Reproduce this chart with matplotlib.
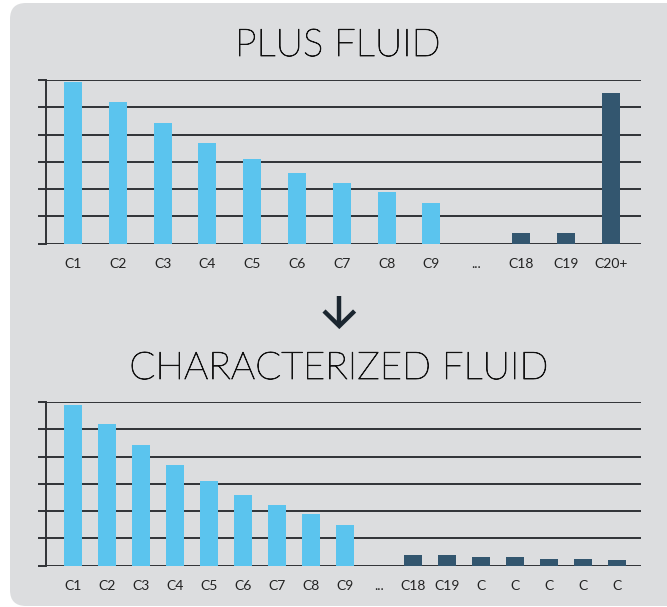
import matplotlib
matplotlib.use("Agg")
import matplotlib.pyplot as plt
import matplotlib.patheffects as pe
from matplotlib.patches import FancyBboxPatch
from matplotlib.lines import Line2D

plt.rcParams['font.family'] = ['Lato', 'DejaVu Sans']

# data (units = gridline steps)
plus_labels = ["C1", "C2", "C3", "C4", "C5", "C6", "C7", "C8", "C9", "...", "C18", "C19", "C20+"]
plus_values = [5.92, 5.19, 4.42, 3.69, 3.10, 2.59, 2.22, 1.89, 1.49, 0, 0.39, 0.39, 5.52]
plus_kind = ["light"] * 9 + ["none"] + ["dark"] * 3

char_labels = ["C1", "C2", "C3", "C4", "C5", "C6", "C7", "C8", "C9", "...",
               "C18", "C19", "C", "C", "C", "C", "C"]
char_values = [5.89, 5.19, 4.42, 3.69, 3.10, 2.59, 2.22, 1.89, 1.49, 0,
               0.39, 0.39, 0.32, 0.32, 0.245, 0.245, 0.21]
char_kind = ["light"] * 9 + ["none"] + ["dark"] * 7

colors = {"light": "#5BC4EE", "dark": "#33566F", "none": "none"}
grid_color = "#303236"
panel_color = "#DCDDDF"

fig = plt.figure(figsize=(6.67, 6.07), dpi=100)
fig.patch.set_facecolor("white")

# rounded gray panel behind everything
panel = FancyBboxPatch((0.10, 0.01), 6.75, 6.03,
                       boxstyle="round,pad=0,rounding_size=0.16",
                       transform=fig.dpi_scale_trans,
                       facecolor=panel_color, edgecolor="none", zorder=-5)
fig.patches.append(panel)

# top chart: PLUS FLUID, bottom chart: CHARACTERIZED FLUID
ax1 = fig.add_axes([46 / 667, 1 - 243.7 / 607, 595 / 667, 163.7 / 607])
ax2 = fig.add_axes([46 / 667, 1 - 565.7 / 607, 595 / 667, 163.7 / 607])

for ax, labels, values, kinds, step in [
        (ax1, plus_labels, plus_values, plus_kind, 44.8),
        (ax2, char_labels, char_values, char_kind, 34.0)]:
    ax.set_facecolor("none")
    x = list(range(len(labels)))
    for yv in range(0, 7):
        ax.axhline(yv, color=grid_color, linewidth=1.4, zorder=1)
    ax.bar(x, values, width=18 / step, color=[colors[k] for k in kinds],
           linewidth=0, zorder=2)
    ax.set_xlim(-27 / step, 568 / step)
    ax.set_ylim(0, 6)
    for side in ["top", "right", "bottom"]:
        ax.spines[side].set_visible(False)
    ax.spines["left"].set_color(grid_color)
    ax.spines["left"].set_linewidth(1.4)
    ax.set_yticks(range(0, 7))
    ax.set_yticklabels([])
    ax.tick_params(axis="y", length=5.5, width=1.4, color=grid_color)
    ax.set_xticks(x)
    ax.set_xticklabels(labels, fontsize=10, color="#222222")
    ax.tick_params(axis="x", length=0, pad=10)

title_fx = [pe.withStroke(linewidth=0.6, foreground="#111111")]
fig.text(338 / 667, 1 - 46 / 607, "PLUS FLUID", ha="center", va="center",
         fontsize=27.5, fontweight="light", color="#111111", path_effects=title_fx)
fig.text(339 / 667, 1 - 369 / 607, "CHARACTERIZED FLUID", ha="center", va="center",
         fontsize=27.5, fontweight="light", color="#111111", path_effects=title_fx)

# down arrow between the charts
arrow_kw = dict(color="#1B2630", linewidth=3.2, solid_capstyle="butt",
                solid_joinstyle="miter", transform=fig.transFigure)
fig.lines.append(Line2D([339.3 / 667, 339.3 / 667], [1 - 296 / 607, 1 - 324 / 607], **arrow_kw))
fig.lines.append(Line2D([324 / 667, 339.3 / 667, 354.6 / 667],
                        [1 - 311 / 607, 1 - 326 / 607, 1 - 311 / 607], **arrow_kw))

fig.savefig("out.png", dpi=100)
